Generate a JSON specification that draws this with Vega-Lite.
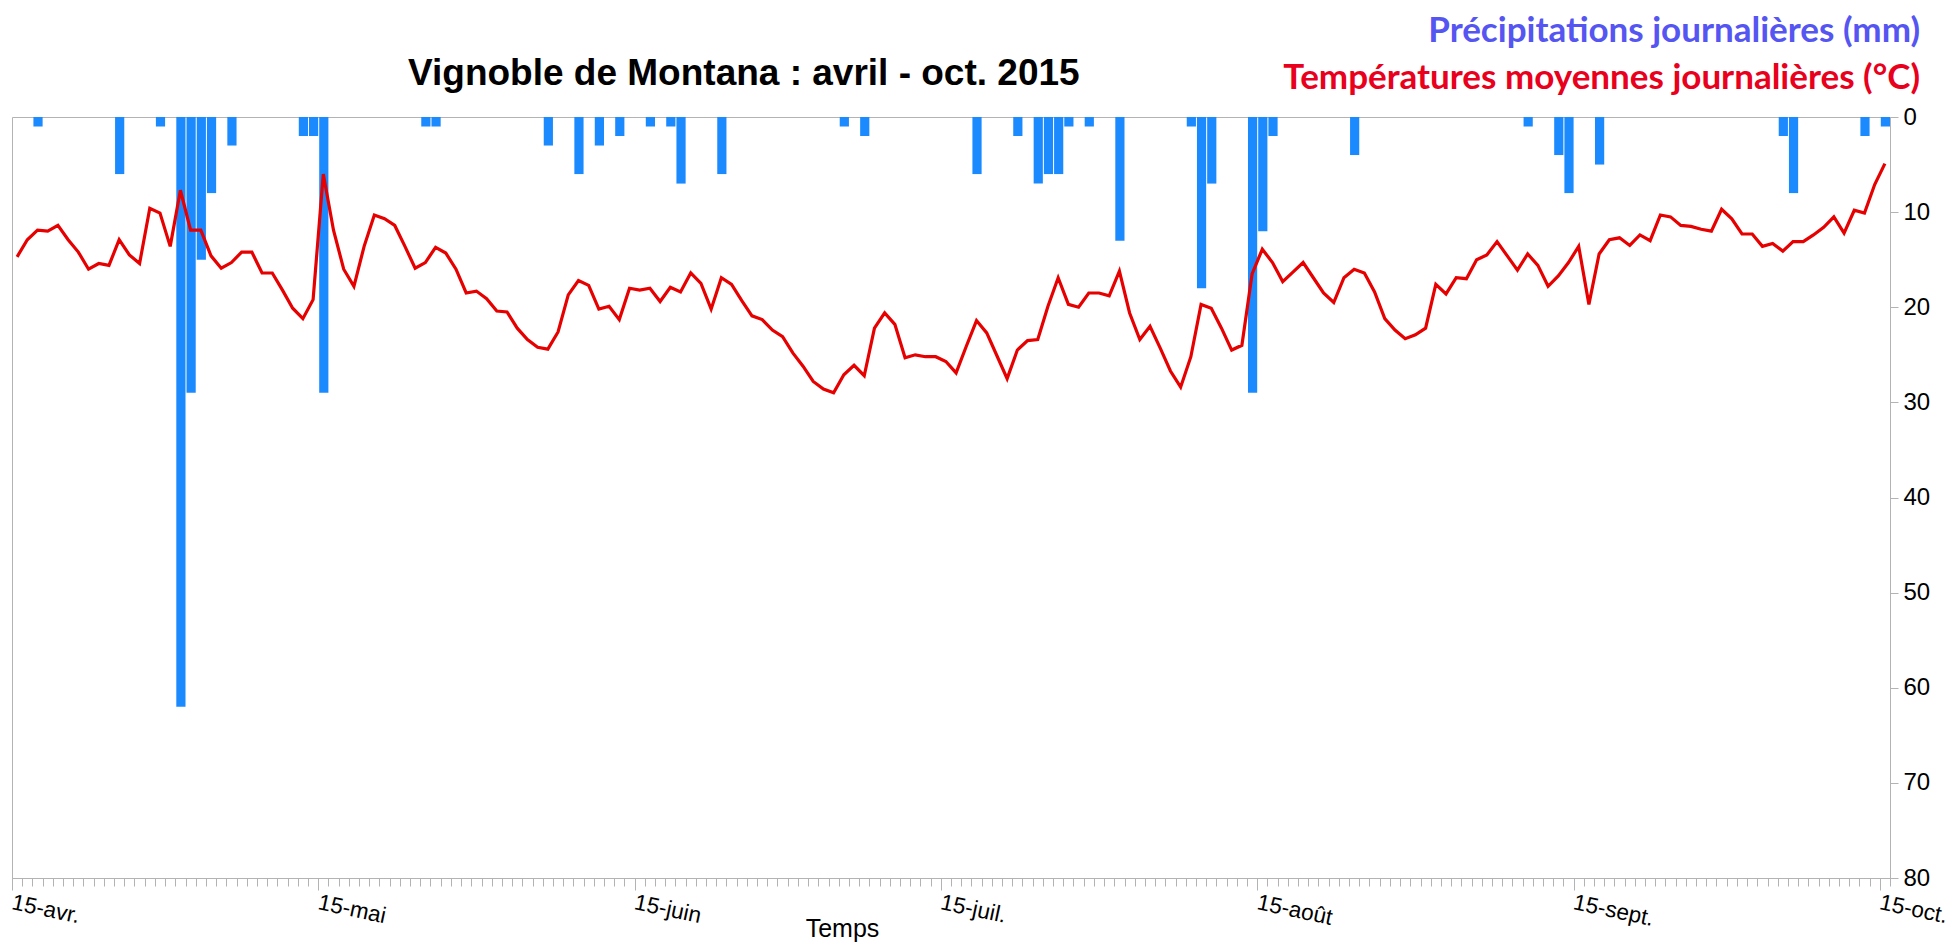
{
  "$schema": "https://vega.github.io/schema/vega-lite/v6.json",
  "width": 1878,
  "height": 761,
  "autosize": {"type": "none"},
  "padding": {"left": 12, "top": 117, "right": 62, "bottom": 68},
  "background": "white",
  "config": {
    "view": {"stroke": "#b3b3b3", "strokeWidth": 1},
    "font": "Liberation Sans"
  },
  "title": {
    "text": "Vignoble de Montana : avril - oct. 2015",
    "anchor": "start",
    "frame": "group",
    "dx": 396,
    "dy": 109,
    "offset": 0,
    "baseline": "alphabetic",
    "font": "Liberation Sans",
    "fontSize": 37,
    "fontWeight": "bold",
    "color": "black"
  },
  "data": {
    "values": [
      {"d": "2015-04-15", "p": 0, "t": 14.7},
      {"d": "2015-04-16", "p": 0, "t": 12.9},
      {"d": "2015-04-17", "p": 1, "t": 11.9},
      {"d": "2015-04-18", "p": 0, "t": 12.0},
      {"d": "2015-04-19", "p": 0, "t": 11.4},
      {"d": "2015-04-20", "p": 0, "t": 12.9},
      {"d": "2015-04-21", "p": 0, "t": 14.2},
      {"d": "2015-04-22", "p": 0, "t": 16.0},
      {"d": "2015-04-23", "p": 0, "t": 15.4},
      {"d": "2015-04-24", "p": 0, "t": 15.6},
      {"d": "2015-04-25", "p": 6, "t": 12.9},
      {"d": "2015-04-26", "p": 0, "t": 14.5},
      {"d": "2015-04-27", "p": 0, "t": 15.4},
      {"d": "2015-04-28", "p": 0, "t": 9.6},
      {"d": "2015-04-29", "p": 1, "t": 10.1},
      {"d": "2015-04-30", "p": 0, "t": 13.6},
      {"d": "2015-05-01", "p": 62, "t": 7.7},
      {"d": "2015-05-02", "p": 29, "t": 11.9},
      {"d": "2015-05-03", "p": 15, "t": 11.9},
      {"d": "2015-05-04", "p": 8, "t": 14.6},
      {"d": "2015-05-05", "p": 0, "t": 15.9},
      {"d": "2015-05-06", "p": 3, "t": 15.3},
      {"d": "2015-05-07", "p": 0, "t": 14.2},
      {"d": "2015-05-08", "p": 0, "t": 14.2},
      {"d": "2015-05-09", "p": 0, "t": 16.4},
      {"d": "2015-05-10", "p": 0, "t": 16.4},
      {"d": "2015-05-11", "p": 0, "t": 18.2},
      {"d": "2015-05-12", "p": 0, "t": 20.1},
      {"d": "2015-05-13", "p": 2, "t": 21.2},
      {"d": "2015-05-14", "p": 2, "t": 19.2},
      {"d": "2015-05-15", "p": 29, "t": 6.0},
      {"d": "2015-05-16", "p": 0, "t": 11.9},
      {"d": "2015-05-17", "p": 0, "t": 16.0},
      {"d": "2015-05-18", "p": 0, "t": 17.8},
      {"d": "2015-05-19", "p": 0, "t": 13.6},
      {"d": "2015-05-20", "p": 0, "t": 10.3},
      {"d": "2015-05-21", "p": 0, "t": 10.7},
      {"d": "2015-05-22", "p": 0, "t": 11.4},
      {"d": "2015-05-23", "p": 0, "t": 13.6},
      {"d": "2015-05-24", "p": 0, "t": 15.9},
      {"d": "2015-05-25", "p": 1, "t": 15.3},
      {"d": "2015-05-26", "p": 1, "t": 13.7},
      {"d": "2015-05-27", "p": 0, "t": 14.3},
      {"d": "2015-05-28", "p": 0, "t": 16.0},
      {"d": "2015-05-29", "p": 0, "t": 18.5},
      {"d": "2015-05-30", "p": 0, "t": 18.3},
      {"d": "2015-05-31", "p": 0, "t": 19.1},
      {"d": "2015-06-01", "p": 0, "t": 20.4},
      {"d": "2015-06-02", "p": 0, "t": 20.5},
      {"d": "2015-06-03", "p": 0, "t": 22.2},
      {"d": "2015-06-04", "p": 0, "t": 23.4},
      {"d": "2015-06-05", "p": 0, "t": 24.2},
      {"d": "2015-06-06", "p": 3, "t": 24.4},
      {"d": "2015-06-07", "p": 0, "t": 22.6},
      {"d": "2015-06-08", "p": 0, "t": 18.7},
      {"d": "2015-06-09", "p": 6, "t": 17.2},
      {"d": "2015-06-10", "p": 0, "t": 17.7},
      {"d": "2015-06-11", "p": 3, "t": 20.2},
      {"d": "2015-06-12", "p": 0, "t": 19.9},
      {"d": "2015-06-13", "p": 2, "t": 21.3},
      {"d": "2015-06-14", "p": 0, "t": 18.0},
      {"d": "2015-06-15", "p": 0, "t": 18.2},
      {"d": "2015-06-16", "p": 1, "t": 18.0},
      {"d": "2015-06-17", "p": 0, "t": 19.4},
      {"d": "2015-06-18", "p": 1, "t": 17.9},
      {"d": "2015-06-19", "p": 7, "t": 18.4},
      {"d": "2015-06-20", "p": 0, "t": 16.4},
      {"d": "2015-06-21", "p": 0, "t": 17.5},
      {"d": "2015-06-22", "p": 0, "t": 20.2},
      {"d": "2015-06-23", "p": 6, "t": 16.9},
      {"d": "2015-06-24", "p": 0, "t": 17.6},
      {"d": "2015-06-25", "p": 0, "t": 19.3},
      {"d": "2015-06-26", "p": 0, "t": 20.9},
      {"d": "2015-06-27", "p": 0, "t": 21.3},
      {"d": "2015-06-28", "p": 0, "t": 22.4},
      {"d": "2015-06-29", "p": 0, "t": 23.1},
      {"d": "2015-06-30", "p": 0, "t": 24.8},
      {"d": "2015-07-01", "p": 0, "t": 26.2},
      {"d": "2015-07-02", "p": 0, "t": 27.8},
      {"d": "2015-07-03", "p": 0, "t": 28.6},
      {"d": "2015-07-04", "p": 0, "t": 29.0},
      {"d": "2015-07-05", "p": 1, "t": 27.1},
      {"d": "2015-07-06", "p": 0, "t": 26.1},
      {"d": "2015-07-07", "p": 2, "t": 27.2},
      {"d": "2015-07-08", "p": 0, "t": 22.2},
      {"d": "2015-07-09", "p": 0, "t": 20.6},
      {"d": "2015-07-10", "p": 0, "t": 21.8},
      {"d": "2015-07-11", "p": 0, "t": 25.3},
      {"d": "2015-07-12", "p": 0, "t": 25.0},
      {"d": "2015-07-13", "p": 0, "t": 25.2},
      {"d": "2015-07-14", "p": 0, "t": 25.2},
      {"d": "2015-07-15", "p": 0, "t": 25.7},
      {"d": "2015-07-16", "p": 0, "t": 26.9},
      {"d": "2015-07-17", "p": 0, "t": 24.1},
      {"d": "2015-07-18", "p": 6, "t": 21.4},
      {"d": "2015-07-19", "p": 0, "t": 22.7},
      {"d": "2015-07-20", "p": 0, "t": 25.1},
      {"d": "2015-07-21", "p": 0, "t": 27.5},
      {"d": "2015-07-22", "p": 2, "t": 24.5},
      {"d": "2015-07-23", "p": 0, "t": 23.5},
      {"d": "2015-07-24", "p": 7, "t": 23.4},
      {"d": "2015-07-25", "p": 6, "t": 19.9},
      {"d": "2015-07-26", "p": 6, "t": 16.9},
      {"d": "2015-07-27", "p": 1, "t": 19.7},
      {"d": "2015-07-28", "p": 0, "t": 20.0},
      {"d": "2015-07-29", "p": 1, "t": 18.5},
      {"d": "2015-07-30", "p": 0, "t": 18.5},
      {"d": "2015-07-31", "p": 0, "t": 18.8},
      {"d": "2015-08-01", "p": 13, "t": 16.2},
      {"d": "2015-08-02", "p": 0, "t": 20.6},
      {"d": "2015-08-03", "p": 0, "t": 23.4},
      {"d": "2015-08-04", "p": 0, "t": 22.0},
      {"d": "2015-08-05", "p": 0, "t": 24.3},
      {"d": "2015-08-06", "p": 0, "t": 26.7},
      {"d": "2015-08-07", "p": 0, "t": 28.4},
      {"d": "2015-08-08", "p": 1, "t": 25.2},
      {"d": "2015-08-09", "p": 18, "t": 19.7},
      {"d": "2015-08-10", "p": 7, "t": 20.1},
      {"d": "2015-08-11", "p": 0, "t": 22.2},
      {"d": "2015-08-12", "p": 0, "t": 24.5},
      {"d": "2015-08-13", "p": 0, "t": 24.0},
      {"d": "2015-08-14", "p": 29, "t": 16.5},
      {"d": "2015-08-15", "p": 12, "t": 13.9},
      {"d": "2015-08-16", "p": 2, "t": 15.3},
      {"d": "2015-08-17", "p": 0, "t": 17.3},
      {"d": "2015-08-18", "p": 0, "t": 16.3},
      {"d": "2015-08-19", "p": 0, "t": 15.3},
      {"d": "2015-08-20", "p": 0, "t": 16.9},
      {"d": "2015-08-21", "p": 0, "t": 18.5},
      {"d": "2015-08-22", "p": 0, "t": 19.5},
      {"d": "2015-08-23", "p": 0, "t": 16.9},
      {"d": "2015-08-24", "p": 4, "t": 16.0},
      {"d": "2015-08-25", "p": 0, "t": 16.4},
      {"d": "2015-08-26", "p": 0, "t": 18.4},
      {"d": "2015-08-27", "p": 0, "t": 21.2},
      {"d": "2015-08-28", "p": 0, "t": 22.4},
      {"d": "2015-08-29", "p": 0, "t": 23.3},
      {"d": "2015-08-30", "p": 0, "t": 22.9},
      {"d": "2015-08-31", "p": 0, "t": 22.2},
      {"d": "2015-09-01", "p": 0, "t": 17.6},
      {"d": "2015-09-02", "p": 0, "t": 18.6},
      {"d": "2015-09-03", "p": 0, "t": 16.9},
      {"d": "2015-09-04", "p": 0, "t": 17.0},
      {"d": "2015-09-05", "p": 0, "t": 15.0},
      {"d": "2015-09-06", "p": 0, "t": 14.5},
      {"d": "2015-09-07", "p": 0, "t": 13.1},
      {"d": "2015-09-08", "p": 0, "t": 14.6},
      {"d": "2015-09-09", "p": 0, "t": 16.1},
      {"d": "2015-09-10", "p": 1, "t": 14.4},
      {"d": "2015-09-11", "p": 0, "t": 15.6},
      {"d": "2015-09-12", "p": 0, "t": 17.8},
      {"d": "2015-09-13", "p": 4, "t": 16.7},
      {"d": "2015-09-14", "p": 8, "t": 15.3},
      {"d": "2015-09-15", "p": 0, "t": 13.6},
      {"d": "2015-09-16", "p": 0, "t": 19.7},
      {"d": "2015-09-17", "p": 5, "t": 14.4},
      {"d": "2015-09-18", "p": 0, "t": 12.9},
      {"d": "2015-09-19", "p": 0, "t": 12.7},
      {"d": "2015-09-20", "p": 0, "t": 13.5},
      {"d": "2015-09-21", "p": 0, "t": 12.4},
      {"d": "2015-09-22", "p": 0, "t": 13.0},
      {"d": "2015-09-23", "p": 0, "t": 10.3},
      {"d": "2015-09-24", "p": 0, "t": 10.5},
      {"d": "2015-09-25", "p": 0, "t": 11.4},
      {"d": "2015-09-26", "p": 0, "t": 11.5},
      {"d": "2015-09-27", "p": 0, "t": 11.8},
      {"d": "2015-09-28", "p": 0, "t": 12.0},
      {"d": "2015-09-29", "p": 0, "t": 9.7},
      {"d": "2015-09-30", "p": 0, "t": 10.7},
      {"d": "2015-10-01", "p": 0, "t": 12.3},
      {"d": "2015-10-02", "p": 0, "t": 12.3},
      {"d": "2015-10-03", "p": 0, "t": 13.6},
      {"d": "2015-10-04", "p": 0, "t": 13.3},
      {"d": "2015-10-05", "p": 2, "t": 14.1},
      {"d": "2015-10-06", "p": 8, "t": 13.1},
      {"d": "2015-10-07", "p": 0, "t": 13.1},
      {"d": "2015-10-08", "p": 0, "t": 12.4},
      {"d": "2015-10-09", "p": 0, "t": 11.6},
      {"d": "2015-10-10", "p": 0, "t": 10.5},
      {"d": "2015-10-11", "p": 0, "t": 12.2},
      {"d": "2015-10-12", "p": 0, "t": 9.8},
      {"d": "2015-10-13", "p": 2, "t": 10.1},
      {"d": "2015-10-14", "p": 0, "t": 7.1},
      {"d": "2015-10-15", "p": 1, "t": 4.9}
    ]
  },
  "layer": [
    {
      "mark": {"type": "bar", "timeUnitBandSize": 0.9},
      "encoding": {
        "x": {
          "field": "d",
          "timeUnit": "utcyearmonthdate",
          "type": "temporal",
          "scale": {
            "domain": [
              {"year": 2015, "month": 4, "date": 15, "utc": true},
              {"year": 2015, "month": 10, "date": 16, "utc": true}
            ],
            "nice": false,
            "padding": 0
          },
          "axis": {
            "orient": "bottom",
            "title": "Temps",
            "titleFont": "Liberation Sans",
            "titleFontSize": 25,
            "titleFontWeight": "normal",
            "titleColor": "black",
            "titleX": 830,
            "titleY": 50,
            "titleBaseline": "middle",
            "titleAlign": "center",
            "tickCount": {"interval": "day", "step": 1},
            "labelExpr": "utcdate(datum.value) == 15 ? '15-' + ['janv.','févr.','mars','avr.','mai','juin','juil.','août','sept.','oct.','nov.','déc.'][utcmonth(datum.value)] : ''",
            "labelAngle": 12,
            "labelAlign": "left",
            "labelBaseline": "top",
            "labelFont": "Liberation Sans",
            "labelFontSize": 22.5,
            "labelColor": "black",
            "labelPadding": 1,
            "labelOffset": 2,
            "labelOverlap": false,
            "labelFlush": false,
            "labelBound": false,
            "tickColor": "#b3b3b3",
            "tickSize": {"condition": {"test": "utcdate(datum.value) == 15", "value": 12}, "value": 8},
            "domainColor": "#b3b3b3",
            "grid": false
          }
        },
        "y": {
          "field": "p",
          "type": "quantitative",
          "scale": {"domain": [0, 80], "reverse": true, "nice": false},
          "axis": {
            "orient": "right",
            "title": null,
            "values": [0, 10, 20, 30, 40, 50, 60, 70, 80],
            "labelFont": "Liberation Sans",
            "labelFontSize": 24,
            "labelColor": "black",
            "labelPadding": 5,
            "tickSize": 8,
            "tickColor": "#b3b3b3",
            "domainColor": "#b3b3b3",
            "grid": false
          }
        },
        "color": {
          "datum": "Précipitations journalières (mm)",
          "type": "nominal",
          "scale": {
            "domain": ["Précipitations journalières (mm)", "Températures moyennes journalières (°C)"],
            "range": ["#1c8aff", "#e60000"]
          },
          "legend": {
            "orient": "none",
            "legendX": 1873,
            "legendY": -104,
            "title": null,
            "padding": 0,
            "symbolSize": 0,
            "symbolOpacity": 0,
            "symbolStrokeWidth": 0,
            "labelOffset": 0,
            "labelAlign": "right",
            "labelBaseline": "middle",
            "labelFont": "Lato",
            "labelFontWeight": "bold",
            "labelFontSize": 35,
            "labelLimit": 1000,
            "rowPadding": 11,
            "labelColor": {"expr": "datum.value == 'Précipitations journalières (mm)' ? '#5555f2' : '#e8001c'"}
          }
        }
      }
    },
    {
      "mark": {"type": "line", "strokeWidth": 3.2},
      "encoding": {
        "x": {
          "field": "d",
          "timeUnit": "utcyearmonthdate",
          "type": "temporal",
          "bandPosition": 0.5
        },
        "y": {
          "field": "t",
          "type": "quantitative",
          "scale": {"domain": [0, 80], "reverse": true, "nice": false}
        },
        "color": {
          "datum": "Températures moyennes journalières (°C)",
          "type": "nominal"
        }
      }
    }
  ]
}
